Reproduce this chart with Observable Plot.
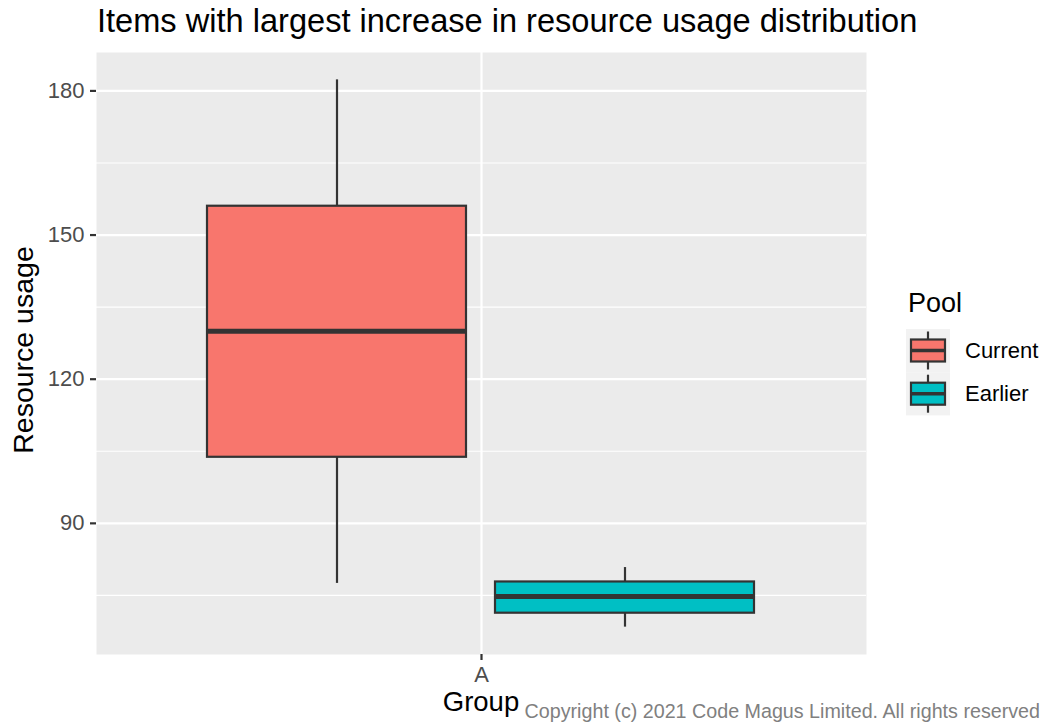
<!DOCTYPE html>
<html>
<head>
<meta charset="utf-8">
<script src="https://cdn.jsdelivr.net/npm/d3@7"></script>
<script src="https://cdn.jsdelivr.net/npm/@observablehq/plot@0.6"></script>
<style>
  body { margin: 0; background: white; }
  #wrap { position: relative; width: 1048px; height: 725px; font-family: "Liberation Sans", Arial, sans-serif; }
  #chart { position: absolute; left: 0; top: 0; }
  .abs { position: absolute; white-space: nowrap; line-height: 1; }
</style>
</head>
<body>
<div id="wrap">
  <div id="chart"></div>
  <div class="abs" id="title" style="left:97px; top:5px; font-size:32.6px; color:#000;">Items with largest increase in resource usage distribution</div>
  <div class="abs" id="ylab" style="left:23px; top:350px; font-size:28.5px; color:#000; transform: translate(-50%,-50%) rotate(-90deg);">Resource usage</div>
  <div class="abs" id="xlab" style="left:481px; top:688px; font-size:27.5px; color:#000; transform: translateX(-50%);">Group</div>
  <div class="abs" id="caption" style="right:8px; top:701.5px; font-size:19.7px; color:#808080;">Copyright (c) 2021 Code Magus Limited. All rights reserved</div>
  <div id="legend" class="abs" style="left:906px; top:290px;"></div>
</div>
<script>
// ---- data ----
const groups = ["A", "A"];
const pools = ["Current", "Earlier"];
const lowerWhisker = [77.5, 68.4];
const q1 = [103.75, 71.3];
const median = [130.0, 74.8];
const q3 = [156.0, 77.8];
const upperWhisker = [182.3, 80.8];
const yTicks = [90, 120, 150, 180];
const yMinor = [75, 105, 135, 165];
const poolColors = ["#F8766D", "#00BFC4"];

const rows = pools.map((p, i) => ({
  group: groups[i], pool: p,
  lo: lowerWhisker[i], q1: q1[i], med: median[i], q3: q3[i], hi: upperWhisker[i]
}));
const lo = d3.min(lowerWhisker), hi = d3.max(upperWhisker), pad = (hi - lo) * 0.05;
const ink = "#333333";

const chart = Plot.plot({
  width: 1048, height: 725,
  marginTop: 52, marginBottom: 71, marginLeft: 96, marginRight: 182,
  style: { fontFamily: "'Liberation Sans', Arial, sans-serif", background: "transparent", overflow: "visible" },
  fx: { domain: ["A"], padding: 0, axis: null },
  x: { domain: pools, paddingInner: 0.1, paddingOuter: 0.3845, axis: null },
  y: { domain: [lo - pad, hi + pad], axis: null },
  color: { domain: pools, range: poolColors },
  marks: [
    Plot.frame({ fill: "#EBEBEB", stroke: "none" }),
    Plot.gridY(yMinor, { stroke: "white", strokeOpacity: 1, strokeWidth: 1.1 }),
    Plot.gridY(yTicks, { stroke: "white", strokeOpacity: 1, strokeWidth: 2.2 }),
    Plot.gridFx(["A"], { stroke: "white", strokeOpacity: 1, strokeWidth: 2.2 }),
    Plot.axisY(yTicks, { anchor: "left", tickSize: 6, tickPadding: 6, stroke: ink, fill: "#4D4D4D", fontSize: 22, label: null, strokeWidth: 2.2 }),
    Plot.axisFx(["A"], { anchor: "bottom", tickSize: 6, tickPadding: 6, stroke: ink, fill: "#4D4D4D", fontSize: 22, label: null, strokeWidth: 2.2 }),
    Plot.ruleX(rows, { fx: "group", x: "pool", y1: "lo", y2: "q1", stroke: ink, strokeWidth: 2.2 }),
    Plot.ruleX(rows, { fx: "group", x: "pool", y1: "q3", y2: "hi", stroke: ink, strokeWidth: 2.2 }),
    Plot.barY(rows, { fx: "group", x: "pool", y1: "q1", y2: "q3", fill: "pool", stroke: ink, strokeWidth: 2.2 }),
    Plot.tickY(rows, { fx: "group", x: "pool", y: "med", stroke: ink, strokeWidth: 5 })
  ]
});
document.getElementById("chart").appendChild(chart);

// ---- legend (ggplot-style boxplot keys) ----
const lg = d3.select("#legend");
lg.append("div").style("font-size", "27px").style("color", "#000").style("margin-left", "2px").text("Pool");
const keySvg = lg.append("svg").attr("width", 142).attr("height", 92).style("display", "block").style("margin-top", "12px");
pools.forEach((p, i) => {
  const g = keySvg.append("g").attr("transform", `translate(0,${i * 43.2})`);
  g.append("rect").attr("width", 44).attr("height", 43.2).attr("fill", "#F2F2F2");
  g.append("line").attr("x1", 22).attr("x2", 22).attr("y1", 2.5).attr("y2", 40.5).attr("stroke", ink).attr("stroke-width", 2.2);
  g.append("rect").attr("x", 5).attr("y", 10.5).attr("width", 34).attr("height", 22).attr("fill", poolColors[i]).attr("stroke", ink).attr("stroke-width", 2.2);
  g.append("line").attr("x1", 5).attr("x2", 39).attr("y1", 21.5).attr("y2", 21.5).attr("stroke", ink).attr("stroke-width", 3.5);
  g.append("text").attr("x", 59).attr("y", 21.6).attr("dy", "0.35em").attr("font-size", 22).attr("fill", "#000").attr("font-family", "'Liberation Sans', Arial, sans-serif").text(p);
});
</script>
</body>
</html>
